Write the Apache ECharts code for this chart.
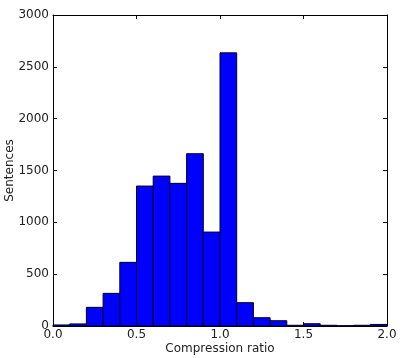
<!DOCTYPE html>
<html>
<head>
<meta charset="utf-8">
<script src="https://cdn.jsdelivr.net/npm/echarts@6/dist/echarts.min.js"></script>
<style>
  html, body { margin: 0; padding: 0; background: #fff; }
  #chart { width: 401px; height: 358px; }
</style>
</head>
<body>
<div id="chart"></div>
<script>
// histogram bins of width 0.1 from 0.0 to 2.0
var binStarts = [0.0, 0.1, 0.2, 0.3, 0.4, 0.5, 0.6, 0.7, 0.8, 0.9,
                 1.0, 1.1, 1.2, 1.3, 1.4, 1.5, 1.6, 1.7, 1.8, 1.9];
var binWidth = 0.1;
var counts = [10, 20, 180, 315, 614, 1350, 1446, 1376, 1662, 906,
              2635, 225, 80, 51, 7, 22, 7, 3, 7, 15];

var xTicks = [0.0, 0.5, 1.0, 1.5, 2.0];
var yTicks = [0, 500, 1000, 1500, 2000, 2500, 3000];

var chart = echarts.init(document.getElementById('chart'));

var data = binStarts.map(function (s, i) {
    return [s, s + binWidth, counts[i]];
});

var font = 'DejaVu Sans';
var axisLine = { show: true, onZero: false, lineStyle: { color: '#000', width: 1 } };
var tick = { show: true, inside: true, length: 4, lineStyle: { color: '#000', width: 1 } };

option = {
    animation: false,
    backgroundColor: '#fff',
    grid: { left: 53, right: 14, top: 15, bottom: 32, outerBoundsMode: 'none', containLabel: false },
    xAxis: [
        {
            type: 'value',
            min: xTicks[0], max: xTicks[xTicks.length - 1], interval: 0.5,
            name: 'Compression ratio',
            nameLocation: 'middle',
            nameMoveOverlap: false,
            nameGap: 17,
            nameTextStyle: { fontFamily: font, fontSize: 12, color: '#222' },
            axisLine: axisLine,
            axisTick: tick,
            splitLine: { show: false },
            axisLabel: {
                margin: 3,
                fontFamily: font, fontSize: 12, color: '#222',
                formatter: function (v) { return v.toFixed(1); }
            }
        },
        {
            type: 'value', position: 'top',
            min: xTicks[0], max: xTicks[xTicks.length - 1], interval: 0.5,
            axisLine: axisLine, axisTick: tick,
            axisLabel: { show: false }, splitLine: { show: false }
        }
    ],
    yAxis: [
        {
            type: 'value',
            min: yTicks[0], max: yTicks[yTicks.length - 1], interval: 500,
            name: 'Sentences',
            nameLocation: 'middle',
            nameMoveOverlap: false,
            nameGap: 37,
            nameRotate: 90,
            nameTextStyle: { fontFamily: font, fontSize: 12, color: '#222' },
            axisLine: axisLine,
            axisTick: tick,
            splitLine: { show: false },
            axisLabel: {
                margin: 4, fontFamily: font, fontSize: 12, color: '#222',
                formatter: function (v) { return String(v); }
            }
        },
        {
            type: 'value', position: 'right',
            min: yTicks[0], max: yTicks[yTicks.length - 1], interval: 500,
            axisLine: axisLine, axisTick: tick,
            axisLabel: { show: false }, splitLine: { show: false }
        }
    ],
    series: [
        {
            type: 'custom',
            data: data,
            encode: { x: [0, 1], y: 2 },
            renderItem: function (params, api) {
                var p0 = api.coord([api.value(0), 0]);
                var p1 = api.coord([api.value(1), api.value(2)]);
                return {
                    type: 'rect',
                    shape: { x: p0[0], y: p1[1], width: p1[0] - p0[0], height: p0[1] - p1[1] },
                    style: { fill: '#0000ff', stroke: '#000022', lineWidth: 1 }
                };
            }
        }
    ]
};

chart.setOption(option);
</script>
</body>
</html>
